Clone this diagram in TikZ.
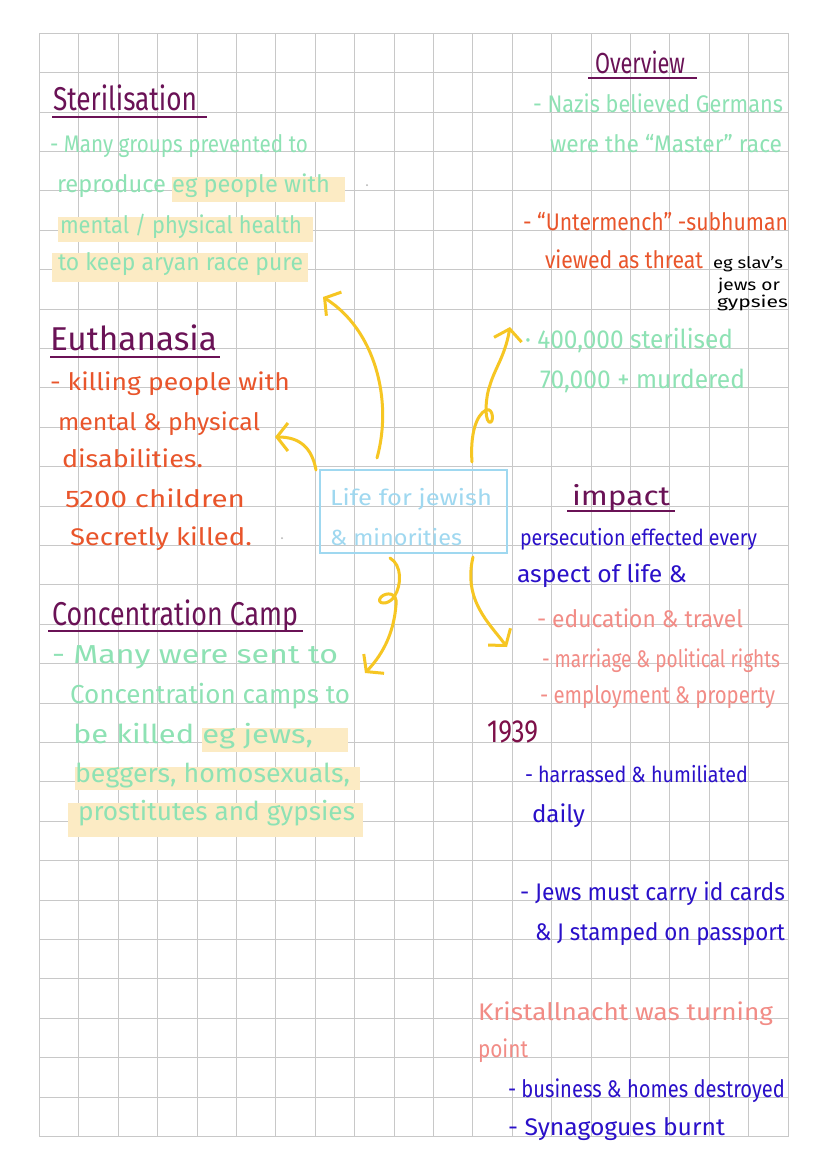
\documentclass[tikz,border=0pt]{standalone}
\usepackage{fontspec}
\usepackage{graphicx}
\setmainfont{Fira Sans}
\usetikzlibrary{arrows.meta}
\definecolor{gridc}{HTML}{C8C8C8}
\definecolor{headc}{HTML}{6A1256}
\definecolor{mintc}{HTML}{8EE2B4}
\definecolor{hlc}{HTML}{FCEBC4}
\definecolor{orangec}{HTML}{E9552B}
\definecolor{bluec}{HTML}{2A10C9}
\definecolor{salmonc}{HTML}{F28C86}
\definecolor{lbluec}{HTML}{9FD8F0}
\definecolor{yellowc}{HTML}{F6C623}
\definecolor{yearc}{HTML}{7D1049}
\newcommand\fitw[2]{\resizebox{#1pt}{\height}{#2}}
\begin{document}
\begin{tikzpicture}[x=1pt,y=-1pt,
 txt/.style={anchor=base west,inner sep=0pt,outer sep=0pt},
 head/.style={txt,text=headc,font=\fontsize{33}{33}\selectfont},
 body/.style={txt,font=\fontsize{24}{24}\selectfont},
 bigbody/.style={txt,font=\fontsize{26}{26}\selectfont},
 small/.style={txt,font=\fontsize{16}{16}\selectfont,text=black},
 hl/.style={fill=hlc},
 uline/.style={draw=headc,line width=1.3pt},
 gridline/.style={draw=gridc,line width=1pt},
 arr/.style={draw=yellowc,line width=3pt,line cap=round,line join=round,-{Straight Barb[length=11pt,width=28pt]}},
 box/.style={draw=lbluec,line width=1.3pt,minimum width=187pt,minimum height=83pt,inner sep=0pt}
]
\fill[white] (0,0) rectangle (828,1171);
\useasboundingbox (0,0) rectangle (828,1171);
% grid
\foreach \i in {0,...,19} {\draw[gridline] ({39.5+\i*39.4},33.3) -- ({39.5+\i*39.4},1136.5);}
\foreach \j in {0,...,28} {\draw[gridline] (39.5,{33.3+\j*39.4}) -- (788.1,{33.3+\j*39.4});}
% highlights
\fill[hl] (172,177) rectangle (345,202);
\fill[hl] (58,217) rectangle (313,242);
\fill[hl] (52,253) rectangle (308,282);
\fill[hl] (202,728) rectangle (348,752);
\fill[hl] (75,767) rectangle (360,790);
\fill[hl] (68,803) rectangle (363,837);
% Sterilisation
\node[head] (sterH) at (53,110) {\fitw{144}{Sterilisation}};
\draw[uline] (52,117) -- (207,117);
\node[body,text=mintc] (ster1) at (50,152) {\fitw{258}{- Many groups prevented to}};
\node[body,text=mintc] (ster2) at (57,192) {\fitw{273}{reproduce eg people with}};
\node[body,text=mintc] (ster3) at (60,233) {\fitw{242}{mental / physical health}};
\node[body,text=mintc] (ster4) at (58,270) {\fitw{245}{to keep aryan race pure}};
\fill[gray!60] (367,185) circle (1pt);
% Overview
\node[head,font=\fontsize{29}{29}\selectfont] (ovH) at (595,73) {\fitw{90}{Overview}};
\draw[uline] (588,78) -- (697,78);
\node[body,text=mintc] (ov1) at (533,112) {\fitw{250}{- Nazis believed Germans}};
\node[body,text=mintc] (ov2) at (550,152) {\fitw{232}{were the “Master” race}};
\node[body,text=orangec] (ov3) at (523,230) {\fitw{265}{- “Untermench” -subhuman}};
\node[body,text=orangec] (ov4) at (545,268) {\fitw{158}{viewed as threat}};
\node[small] (ov5) at (713,268) {\fitw{70}{eg slav’s}};
\node[small] (ov6) at (718,290) {\fitw{62}{jews or}};
\node[small] (ov7) at (717,307) {\fitw{71}{gypsies}};
\node[bigbody,text=mintc] (ov8) at (525,348) {\fitw{208}{· 400,000 sterilised}};
\node[bigbody,text=mintc] (ov9) at (540,388) {\fitw{205}{70,000 + murdered}};
% Euthanasia
\node[head] (euH) at (50,350) {\fitw{167}{Euthanasia}};
\draw[uline] (50,357) -- (220,357);
\node[body,text=orangec] (eu1) at (50,390) {\fitw{240}{- killing people with}};
\node[body,text=orangec] (eu2) at (58,430) {\fitw{202}{mental \& physical}};
\node[body,text=orangec] (eu3) at (62,467) {\fitw{141}{disabilities.}};
\node[body,text=orangec] (eu4) at (65,507) {\fitw{180}{5200 children}};
\node[body,text=orangec] (eu5) at (70,545) {\fitw{182}{Secretly killed.}};
\fill[gray!60] (282,538) circle (1pt);
% centre
\node[box] (life) at (413.5,511.5) {};
\node[txt,text=lbluec,font=\fontsize{22}{22}\selectfont] (life1) at (330,505) {\fitw{162}{Life for jewish}};
\node[txt,text=lbluec,font=\fontsize{22}{22}\selectfont] (life2) at (330,545) {\fitw{132}{\& minorities}};
% impact
\node[head,font=\fontsize{27}{27}\selectfont] (imH) at (572,505) {\fitw{98}{impact}};
\draw[uline] (567,511) -- (675,511);
\node[body,text=bluec,font=\fontsize{22}{22}\selectfont] (im1) at (520,545) {\fitw{237}{persecution effected every}};
\node[body,text=bluec] (im2) at (517,582) {\fitw{170}{aspect of life \&}};
\node[body,text=salmonc] (im3) at (537,627) {\fitw{206}{- education \& travel}};
\node[body,text=salmonc] (im4) at (542,667) {\fitw{238}{- marriage \& political rights}};
\node[body,text=salmonc] (im5) at (540,703) {\fitw{235}{- employment \& property}};
\node[txt,text=yearc,font=\fontsize{32}{32}\selectfont] (yr) at (487,742) {\fitw{51}{1939}};
\node[body,text=bluec,font=\fontsize{22}{22}\selectfont] (h1) at (525,782) {\fitw{223}{- harrassed \& humiliated}};
\node[body,text=bluec] (h2) at (532,822) {\fitw{53}{daily}};
\node[body,text=bluec] (j1) at (520,900) {\fitw{265}{- Jews must carry id cards}};
\node[body,text=bluec] (j2) at (535,940) {\fitw{250}{\& J stamped on passport}};
\node[body,text=salmonc] (k1) at (478,1020) {\fitw{295}{Kristallnacht was turning}};
\node[body,text=salmonc] (k2) at (478,1057) {\fitw{50}{point}};
\node[body,text=bluec] (k3) at (508,1097) {\fitw{277}{- business \& homes destroyed}};
\node[body,text=bluec] (k4) at (508,1135) {\fitw{217}{- Synagogues burnt}};
% Concentration camp
\node[head] (ccH) at (52,625) {\fitw{246}{Concentration Camp}};
\draw[uline] (48,631) -- (303,631);
\node[bigbody,text=mintc] (cc1) at (52,663) {\fitw{286}{- Many were sent to}};
\node[bigbody,text=mintc] (cc2) at (70,703) {\fitw{280}{Concentration camps to}};
\node[bigbody,text=mintc] (cc3) at (73,743) {\fitw{240}{be killed eg jews,}};
\node[bigbody,text=mintc] (cc4) at (75,782) {\fitw{275}{beggers, homosexuals,}};
\node[bigbody,text=mintc] (cc5) at (78,820) {\fitw{277}{prostitutes and gypsies}};
% arrows
\coordinate (a1s) at (377,458); \coordinate (a1e) at (323,297);
\coordinate (a2s) at (316,470); \coordinate (a2e) at (275,437);
\coordinate (a3s) at (472,462); \coordinate (a3e) at (510,327);
\coordinate (a4s) at (390,558); \coordinate (a4e) at (365,673);
\coordinate (a5s) at (473,557); \coordinate (a5e) at (507,647);
\draw[arr] (a1s) .. controls (393,400) and (375,330) .. (a1e);
\draw[arr] (a2s) .. controls (312,448) and (300,437) .. (a2e);
\draw[arr] (a3s) .. controls (470,435) and (476,415) .. (486,410) .. controls (494,407) and (494,425) .. (489,422) .. controls (484,418) and (486,395) .. (490,385) .. controls (495,368) and (505,356) .. (a3e);
\draw[arr] (a4s) .. controls (402,565) and (402,585) .. (394,597) .. controls (388,606) and (375,604) .. (381,597) .. controls (386,592) and (398,592) .. (396,605) .. controls (394,630) and (385,652) .. (a4e);
\draw[arr] (a5s) .. controls (463,600) and (489,623) .. (a5e);
\end{tikzpicture}
\end{document}
